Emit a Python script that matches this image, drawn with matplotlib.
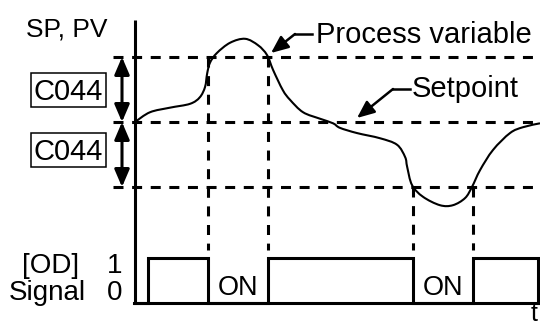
import numpy as np
import matplotlib
matplotlib.use('Agg')
import matplotlib.pyplot as plt
from matplotlib.patches import Rectangle, PathPatch
from matplotlib.path import Path

plt.rcParams['font.family'] = ['Liberation Sans', 'DejaVu Sans']
plt.rcParams['lines.scale_dashes'] = False

# ---------------- data ----------------
# process variable (time units, value in units of C044 relative to setpoint)
pv_t = [0.00, 0.37, 0.86, 1.36, 1.60, 1.73, 1.78, 1.85, 2.02, 2.35, 2.72, 3.04,
        3.26, 3.41, 3.65, 3.83, 4.15, 4.57, 4.89, 5.06, 5.48, 6.05, 6.47, 6.67,
        6.72, 6.84, 7.11, 7.53, 7.85, 8.15, 8.32, 8.52, 8.84, 9.26, 9.58, 10.00]
pv_v = [0.00, 0.15, 0.22, 0.28, 0.38, 0.54, 0.74, 0.91, 1.06, 1.22, 1.28, 1.18,
        1.03, 0.80, 0.49, 0.34, 0.15, 0.05, -0.02, -0.09, -0.17, -0.25, -0.35, -0.54,
        -0.69, -0.97, -1.15, -1.28, -1.28, -1.17, -1.00, -0.74, -0.43, -0.17, -0.08, -0.02]
setpoint = 0.0
band = 1.0                     # C044 deviation
upper_cross = [1.80, 3.28]     # PV crosses SP + C044
lower_cross = [6.86, 8.35]     # PV crosses SP - C044
signal_t = [0.0, 0.32, 0.32, 1.80, 1.80, 3.28, 3.28, 6.86, 6.86, 8.35, 8.35, 9.95, 9.95]
signal_v = [0, 0, 1, 1, 0, 0, 1, 1, 0, 0, 1, 1, 0]
on_labels = ["ON", "ON"]
t_end = 10.0

# ---------------- layout ----------------
W, H = 540, 327
X0, XS = 135, 40.5      # pixel x of t=0, pixels per time unit
Y0, YS = 122, 65        # pixel y of setpoint, pixels per C044
SY0, SYS = 303, 45      # pixel y of signal 0, pixels per signal unit
LW = 2.2

fig = plt.figure(figsize=(W / 100, H / 100), dpi=100)

def full_ax():
    a = fig.add_axes([0, 0, 1, 1])
    a.set_axis_off()
    return a

lay = full_ax()
lay.set_xlim(0, W)
lay.set_ylim(H, 0)

ax = full_ax()
ax.set_xlim((0 - X0) / XS, (W - X0) / XS)
ax.set_ylim((Y0 - H) / YS, Y0 / YS)

sg = full_ax()
sg.set_xlim((0 - X0) / XS, (W - X0) / XS)
sg.set_ylim((SY0 - H) / SYS, SY0 / SYS)

dash = dict(color='black', lw=LW, dashes=(7.2, 6.2), solid_capstyle='butt', dash_capstyle='butt')

# axes lines
lay.plot([X0, X0], [20, SY0], color='black', lw=LW, solid_capstyle='butt')
lay.plot([X0 - 1, 539], [SY0, SY0], color='black', lw=LW, solid_capstyle='projecting')

# horizontal dashed lines
t_left = (113 - X0) / XS
for lvl in (setpoint + band, setpoint, setpoint - band):
    ax.plot([t_left, t_end], [lvl, lvl], **dash)

# vertical dashed lines
v_bottom = (Y0 - 250) / YS
for tc in upper_cross:
    ax.plot([tc, tc], [setpoint + band, v_bottom], **dash)
for tc in lower_cross:
    ax.plot([tc, tc], [setpoint - band, v_bottom], **dash)

# smooth PV curve (Catmull-Rom -> Bezier)
P = np.column_stack([pv_t, pv_v])
verts = [tuple(P[0])]
codes = [Path.MOVETO]
n = len(P)
for i in range(n - 1):
    p0 = P[max(i - 1, 0)]
    p1 = P[i]
    p2 = P[i + 1]
    p3 = P[min(i + 2, n - 1)]
    c1 = p1 + (p2 - p0) / 6.0
    c2 = p2 - (p3 - p1) / 6.0
    verts += [tuple(c1), tuple(c2), tuple(p2)]
    codes += [Path.CURVE4] * 3
ax.add_patch(PathPatch(Path(verts, codes), facecolor='none', edgecolor='black', lw=1.5))

# C044 double arrows
t_arr = (122 - X0) / XS
astyle = '<|-|>,head_length=1.05,head_width=0.45'
for a, b in ((setpoint, setpoint + band), (setpoint, setpoint - band)):
    ax.annotate('', xy=(t_arr, b), xytext=(t_arr, a),
                arrowprops=dict(arrowstyle=astyle, lw=LW, color='black',
                                shrinkA=0, shrinkB=0, mutation_scale=10))

# signal
sg.plot(signal_t, signal_v, color='black', lw=LW, solid_joinstyle='miter')

# leaders
lstyle = '-|>,head_length=1.05,head_width=0.45'
lay.plot([295, 312], [34, 34], color='black', lw=1.8)
lay.annotate('', xy=(271, 53), xytext=(295, 34),
             arrowprops=dict(arrowstyle=lstyle, lw=1.8, color='black',
                             shrinkA=0, shrinkB=0, mutation_scale=10))
lay.plot([393, 410], [89, 89], color='black', lw=1.8)
lay.annotate('', xy=(357, 118), xytext=(393, 89),
             arrowprops=dict(arrowstyle=lstyle, lw=1.8, color='black',
                             shrinkA=0, shrinkB=0, mutation_scale=10))

# texts
FS = 21
lay.text(26, 37, "SP, PV", fontsize=19, ha='left', va='baseline')
lay.text(316, 43, "Process variable", fontsize=FS, ha='left', va='baseline')
lay.text(412, 97, "Setpoint", fontsize=FS, ha='left', va='baseline')
for ytop in (73, 133):
    lay.add_patch(Rectangle((31, ytop), 75, 34, facecolor='none', edgecolor='black', lw=1.1))
    lay.text(68.5, ytop + 17 + 10, "C044", fontsize=FS, ha='center', va='baseline')
lay.text(22, 273, "[OD]", fontsize=20, ha='left', va='baseline')
lay.text(107, 273, "1", fontsize=20, ha='left', va='baseline')
lay.text(9, 300, "Signal", fontsize=20, ha='left', va='baseline')
lay.text(107, 300, "0", fontsize=20, ha='left', va='baseline')
on_x = [(upper_cross[0] + upper_cross[1]) / 2, (lower_cross[0] + lower_cross[1]) / 2]
for tx, lab in zip(on_x, on_labels):
    sg.text(tx, (SY0 - 295) / SYS, lab, fontsize=19.5, ha='center', va='baseline')
lay.text(531, 326, "t", fontsize=18, ha='left', va='bottom')

fig.savefig('out.png', dpi=100)
